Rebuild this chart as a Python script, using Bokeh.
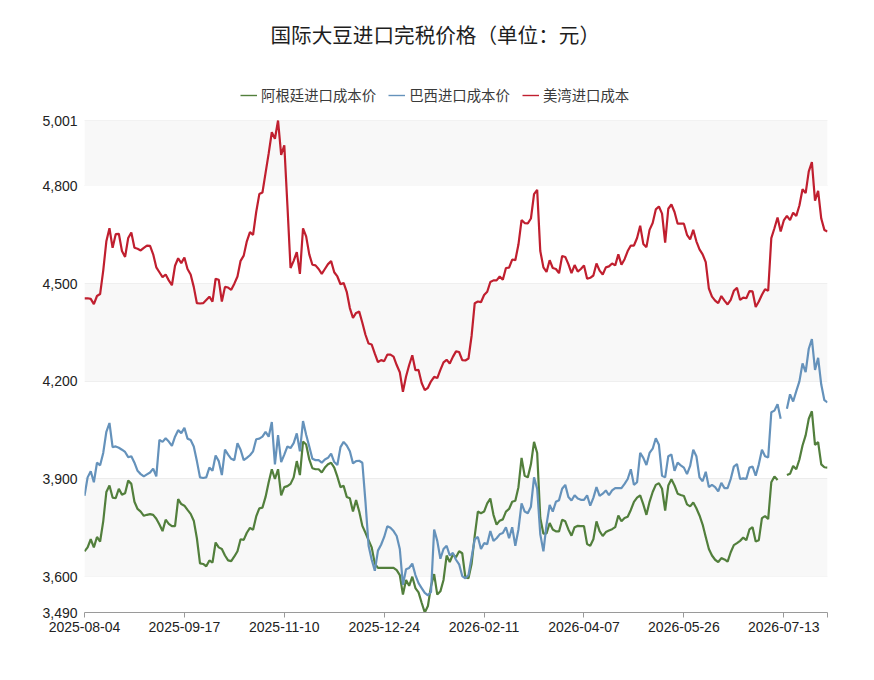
import math
from bokeh.plotting import figure
from bokeh.models import (Range1d, FixedTicker, NumeralTickFormatter, BoxAnnotation,
                          Legend, LegendItem, ColumnDataSource)
from bokeh.embed import file_html
from bokeh.resources import INLINE

N = None
tick_labels = ["2025-08-04", "2025-09-17", "2025-11-10", "2025-12-24",
               "2026-02-11", "2026-04-07", "2026-05-26", "2026-07-13"]
tick_every = 32
n_points = 239

argentina = [
    3678, 3690, 3715, 3690, 3722, 3708, 3770, 3860, 3880, 3843,
    3841, 3870, 3852, 3856, 3895, 3885, 3830, 3808, 3800, 3787,
    3790, 3792, 3790, 3778, 3760, 3740, 3775, 3762, 3755, 3755,
    3838, 3823, 3818, 3805, 3793, 3772, 3718, 3641, 3639, 3632,
    3650, 3643, 3705, 3690, 3685, 3665, 3650, 3648, 3662, 3678,
    3715, 3713, 3735, 3750, 3744, 3785, 3810, 3812, 3845, 3890,
    3930, 3900, 3930, 3850, 3875, 3878, 3885, 3905, 3955, 3912,
    4015, 4006, 3960, 3933, 3930, 3930, 3920, 3935, 3945, 3950,
    3935, 3907, 3875, 3879, 3845, 3841, 3800, 3835, 3800, 3756,
    3735, 3712, 3690, 3640, 3627, 3627, 3627, 3627, 3627, 3627,
    3620, 3605, 3545, 3590, 3572, 3600, 3565, 3552, 3520, 3490,
    3510, 3571, 3608, 3545, 3555, 3590, 3665, 3645, 3668, 3660,
    3678, 3672, 3598, 3595, 3640, 3725, 3800, 3795, 3800, 3825,
    3840, 3790, 3760, 3772, 3776, 3800, 3808, 3830, 3833, 3875,
    3965, 3910, 3905, 3945, 4014, 3980, 3780, 3732, 3733, 3765,
    3745, 3739, 3739, 3775, 3770, 3745, 3726, 3752, 3756, 3755,
    3755, 3700, 3695, 3715, 3770, 3740, 3725, 3737, 3742, 3746,
    3752, 3788, 3770, 3780, 3784, 3805, 3830, 3843, 3850, 3822,
    3790, 3830, 3860, 3882, 3887, 3870, 3803, 3880, 3899, 3880,
    3855, 3851, 3848, 3822, 3816, 3828, 3810, 3788, 3760, 3722,
    3685, 3665, 3652, 3645, 3657, 3653, 3646, 3675, 3697, 3703,
    3710, 3720, 3712, 3745, 3752, 3708, 3712, 3780, 3786, 3777,
    3890, 3908, 3897, N, N, 3912, 3916, 3940, 3930, 3960,
    4003, 4034, 4085, 4108, 4005, 4013, 3945, 3936, 3935,
]

brazil = [
    3848, 3905, 3924, 3890, 3950, 3942, 3980, 4045, 4072, 3998,
    4000, 3996, 3990, 3983, 3967, 3970, 3950, 3925, 3915, 3908,
    3914, 3920, 3932, 3908, 4020, 4014, 4025, 4015, 4002, 4030,
    4050, 4041, 4057, 4024, 4020, 4000, 3955, 3905, 3903, 3905,
    3935, 3925, 3972, 3955, 3912, 3990, 3975, 3962, 3958, 4010,
    3990, 3958, 3965, 3973, 3985, 4022, 4024, 4030, 4045, 4030,
    4075, 3945, 4035, 3952, 3975, 4000, 3995, 4010, 4040, 3985,
    4078, 4036, 4000, 3962, 3958, 3958, 3950, 3960, 3965, 3978,
    3952, 3943, 3998, 4014, 4003, 3985, 3948, 3955, 3956, 3950,
    3830, 3695, 3652, 3618, 3680, 3698, 3722, 3755, 3750, 3740,
    3725, 3685, 3575, 3623, 3627, 3640, 3605, 3580, 3565, 3550,
    3543, 3553, 3745, 3710, 3655, 3685, 3695, 3665, 3673, 3652,
    3638, 3602, 3595, 3605, 3660, 3715, 3722, 3685, 3703, 3700,
    3740, 3710, 3718, 3730, 3734, 3752, 3718, 3752, 3695, 3745,
    3825, 3800, 3795, 3815, 3905, 3870, 3730, 3678, 3760, 3820,
    3800, 3830, 3835, 3870, 3882, 3845, 3834, 3850, 3840, 3836,
    3836, 3850, 3818, 3842, 3875, 3848, 3855, 3865, 3850, 3865,
    3872, 3872, 3872, 3885, 3900, 3930, 3882, 3890, 3980, 3965,
    3943, 3980, 3993, 4025, 4005, 3910, 3905, 3970, 3975, 3925,
    3950, 3942, 3935, 3915, 3940, 3990, 3970, 3905, 3893, 3922,
    3875, 3882, 3875, 3862, 3888, 3872, 3872, 3900, 3938, 3946,
    3900, 3902, 3900, 3935, 3938, 3910, 3945, 3990, 3970, 3966,
    4105, 4110, 4130, 4085, N, 4116, 4160, 4138, 4170, 4200,
    4255, 4228, 4300, 4330, 4235, 4272, 4190, 4142, 4135,
]

us_gulf = [
    4455, 4455, 4453, 4437, 4462, 4468, 4540, 4630, 4670, 4610,
    4652, 4653, 4600, 4582, 4640, 4657, 4610, 4607, 4602, 4610,
    4617, 4616, 4590, 4550, 4535, 4520, 4528, 4510, 4495, 4555,
    4578, 4563, 4580, 4545, 4528, 4490, 4440, 4439, 4440, 4450,
    4460, 4445, 4515, 4512, 4445, 4490, 4488, 4481, 4500, 4522,
    4570, 4586, 4630, 4658, 4650, 4720, 4775, 4780, 4840, 4900,
    4965, 4945, 5001, 4895, 4925, 4740, 4548, 4570, 4597, 4530,
    4670, 4645, 4590, 4558, 4556, 4545, 4530, 4545, 4560, 4569,
    4535, 4522, 4498, 4502, 4475, 4425, 4395, 4410, 4414, 4380,
    4343, 4316, 4313, 4285, 4259, 4265, 4262, 4282, 4282, 4276,
    4250, 4228, 4168, 4215, 4250, 4280, 4234, 4235, 4195, 4173,
    4180, 4200, 4214, 4210, 4235, 4258, 4266, 4255, 4275, 4292,
    4290, 4265, 4264, 4270, 4340, 4440, 4445, 4443, 4465, 4475,
    4505, 4510, 4510, 4522, 4512, 4548, 4549, 4574, 4572, 4620,
    4695, 4686, 4685, 4700, 4775, 4788, 4600, 4550, 4536, 4572,
    4548, 4545, 4532, 4585, 4582, 4560, 4532, 4557, 4537, 4545,
    4556, 4515, 4518, 4525, 4562, 4540, 4528, 4550, 4553, 4562,
    4556, 4590, 4558, 4575, 4600, 4617, 4617, 4640, 4678, 4622,
    4612, 4665, 4686, 4728, 4737, 4715, 4626, 4730, 4743, 4720,
    4684, 4684, 4684, 4650, 4636, 4665, 4630, 4605, 4590, 4566,
    4485, 4460, 4448, 4440, 4462, 4448, 4436, 4450, 4478, 4487,
    4450, 4457, 4455, 4477, 4476, 4428, 4445, 4466, 4483, 4478,
    4640, 4670, 4703, 4660, 4694, 4708, 4695, 4718, 4708, 4740,
    4790, 4778, 4845, 4873, 4755, 4785, 4700, 4665, 4660,
]

series_names = ["阿根廷进口成本价", "巴西进口成本价", "美湾进口成本"]
series_colors = ["#527f3c", "#6592bb", "#c01f2f"]
y_ticks = [3490, 3600, 3900, 4200, 4500, 4800, 5001]

CJK = "Noto Sans CJK SC"
NUM = "Liberation Sans"

# layout (pixels)
W, H = 866, 670
plot_left, plot_right, plot_top, plot_bottom = 84, 827, 120, 612
title_standoff = 33
frame_top = 32 + title_standoff          # title panel height
y_lo, y_hi = min(y_ticks), max(y_ticks)
y_end = y_lo + (y_hi - y_lo) * (plot_bottom - frame_top) / (plot_bottom - plot_top)

def clean(vals):
    return [float("nan") if v is None else v for v in vals]

xs = list(range(n_points))

p = figure(width=W, height=H, output_backend="svg", toolbar_location=None,
           x_range=Range1d(0, n_points - 1), y_range=Range1d(y_lo, y_end),
           min_border_left=plot_left, min_border_right=W - plot_right,
           min_border_bottom=H - plot_bottom, min_border_top=0)
p.outline_line_color = None
p.background_fill_color = "white"
p.border_fill_color = "white"

# alternating split areas
for i in range(1, len(y_ticks) - 1, 2):
    p.add_layout(BoxAnnotation(bottom=y_ticks[i], top=y_ticks[i + 1], fill_color="#f8f8f8",
                               fill_alpha=1.0, line_color=None, level="underlay"))

p.xgrid.visible = False
p.ygrid.ticker = FixedTicker(ticks=y_ticks)
p.ygrid.grid_line_color = "#ececec"
p.ygrid.grid_line_width = 1

items = []
for name, vals, col in zip(series_names, [argentina, brazil, us_gulf], series_colors):
    src = ColumnDataSource(dict(x=xs, y=clean(vals)))
    p.line("x", "y", source=src, line_color=col, line_width=2.2)
    # thin legend icon (proxy renderer holding no visible point)
    proxy = p.line(x=[0], y=[float("nan")], line_color=col, line_width=1.4)
    items.append(LegendItem(label=name, renderers=[proxy]))

xticks = [i * tick_every for i in range(len(tick_labels))] + [n_points - 1]
overrides = {i * tick_every: lab for i, lab in enumerate(tick_labels)}
overrides[n_points - 1] = ""
p.xaxis.ticker = FixedTicker(ticks=xticks)
p.xaxis.major_label_overrides = overrides
p.xaxis.axis_line_color = "#9a9a9a"
p.xaxis.major_tick_line_color = "#9a9a9a"
p.xaxis.major_tick_out = 5
p.xaxis.major_tick_in = 0
p.xaxis.minor_tick_line_color = None
p.xaxis.major_label_text_font = NUM
p.xaxis.major_label_text_font_size = "14px"
p.xaxis.major_label_text_color = "#222222"
p.xaxis.major_label_standoff = 4

p.yaxis.ticker = FixedTicker(ticks=y_ticks)
p.yaxis.formatter = NumeralTickFormatter(format="0,0")
p.yaxis.axis_line_color = None
p.yaxis.major_tick_line_color = None
p.yaxis.major_tick_out = 0
p.yaxis.major_tick_in = 0
p.yaxis.minor_tick_line_color = None
p.yaxis.major_label_text_font = NUM
p.yaxis.major_label_text_font_size = "14px"
p.yaxis.major_label_text_color = "#222222"
p.yaxis.major_label_standoff = 7

legend_bottom = 105
legend = Legend(items=items,
                orientation="horizontal", location=(240 - plot_left, plot_bottom - legend_bottom),
                label_text_font=CJK, label_text_font_size="14.4px", label_text_color="#3a3a3a",
                glyph_width=17, glyph_height=16, label_standoff=4, spacing=12,
                padding=0, margin=0, border_line_color=None, background_fill_alpha=0)
p.add_layout(legend, "center")

p.title.text = "国际大豆进口完税价格（单位：元）"
p.title.text_font = CJK
p.title.text_font_size = "20.6px"
p.title.text_font_style = "normal"
p.title.text_color = "#1e1e1e"
p.title.align = "left"
p.title.offset = 270 - plot_left
p.title.standoff = title_standoff

open("out.html", "w").write(file_html(p, INLINE))
